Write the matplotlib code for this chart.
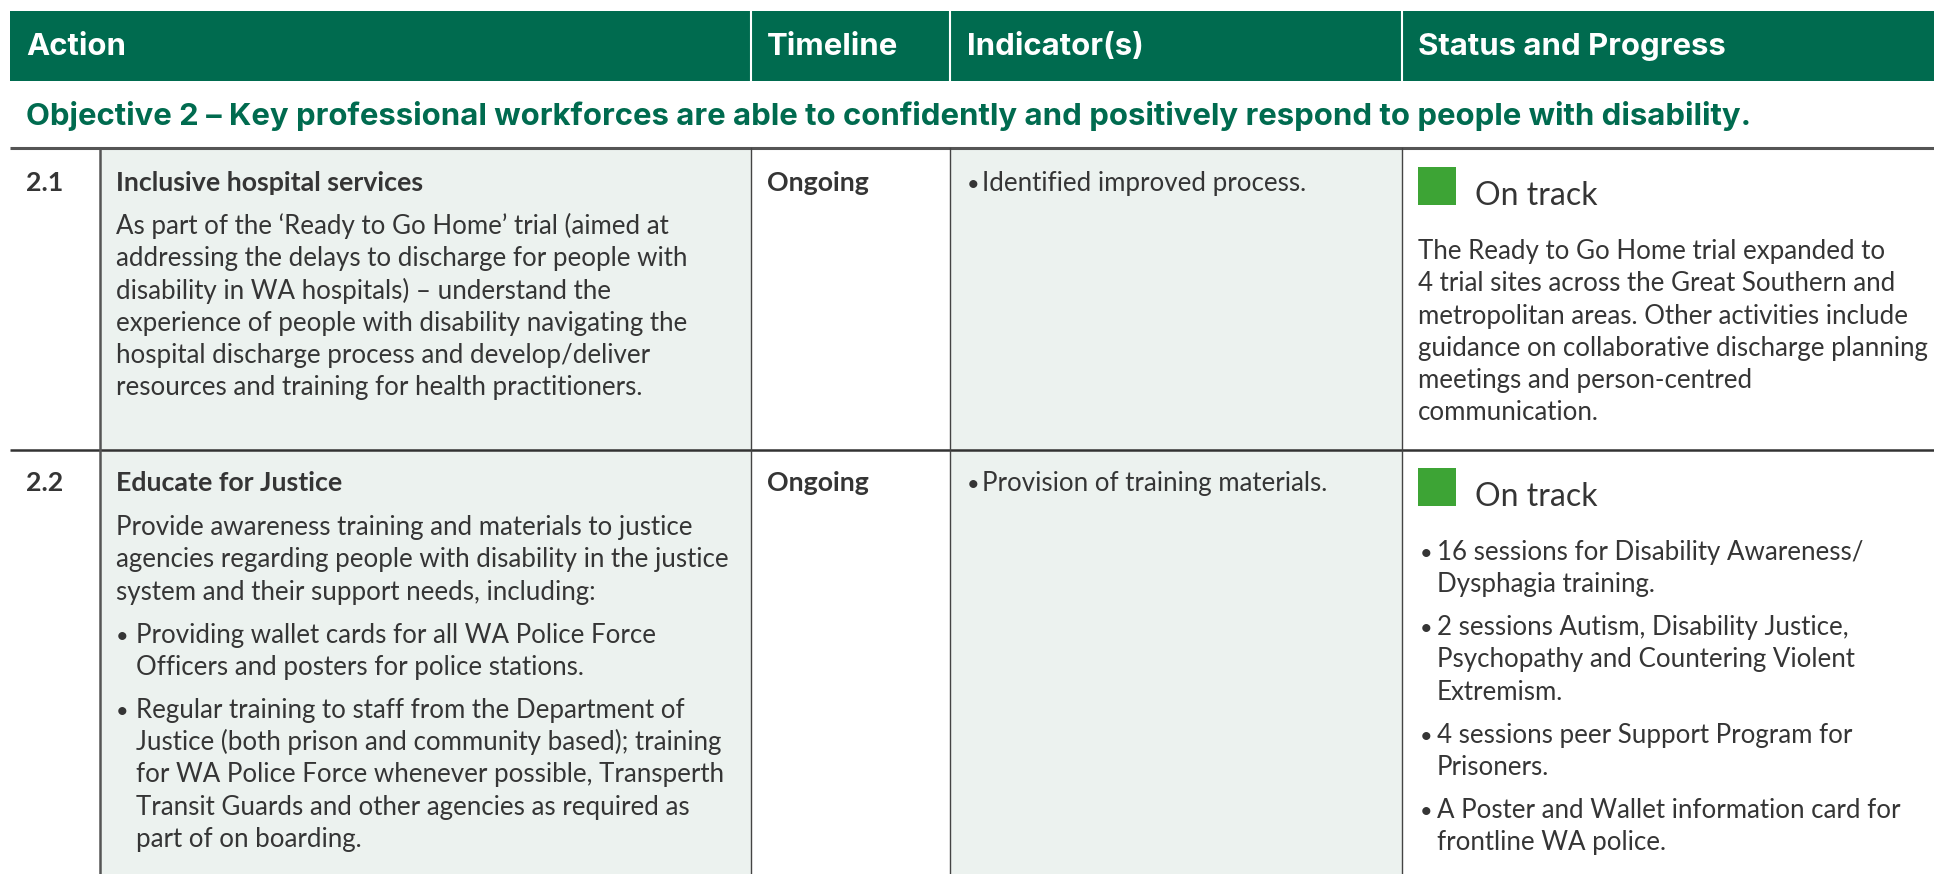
import matplotlib
matplotlib.use("Agg")
import matplotlib.pyplot as plt
from matplotlib.patches import Rectangle

# ---------------- data ----------------
headers = ["Action", "Timeline", "Indicator(s)", "Status and Progress"]
objective = ("Objective 2 \u2013 Key professional workforces are able to confidently "
             "and positively respond to people with disability.")
row_ids = ["2.1", "2.2"]
row_titles = ["Inclusive hospital services", "Educate for Justice"]
row1_body = [
    "As part of the \u2018Ready to Go Home\u2019 trial (aimed at",
    "addressing the delays to discharge for people with",
    "disability in WA hospitals) \u2013 understand the",
    "experience of people with disability navigating the",
    "hospital discharge process and develop/deliver",
    "resources and training for health practitioners.",
]
row2_body = [
    "Provide awareness training and materials to justice",
    "agencies regarding people with disability in the justice",
    "system and their support needs, including:",
]
row2_bullets = [
    ["Providing wallet cards for all WA Police Force",
     "Officers and posters for police stations."],
    ["Regular training to staff from the Department of",
     "Justice (both prison and community based); training",
     "for WA Police Force whenever possible, Transperth",
     "Transit Guards and other agencies as required as",
     "part of on boarding."],
]
timelines = ["Ongoing", "Ongoing"]
indicators = ["Identified improved process.", "Provision of training materials."]
statuses = ["On track", "On track"]
status1_body = [
    "The Ready to Go Home trial expanded to",
    "4 trial sites across the Great Southern and",
    "metropolitan areas. Other activities include",
    "guidance on collaborative discharge planning",
    "meetings and person-centred",
    "communication.",
]
status2_bullets = [
    ["16 sessions for Disability Awareness/", "Dysphagia training."],
    ["2 sessions Autism, Disability Justice,", "Psychopathy and Countering Violent", "Extremism."],
    ["4 sessions peer Support Program for", "Prisoners."],
    ["A Poster and Wallet information card for", "frontline WA police."],
]

# ---------------- style ----------------
W, H = 1934, 874
GREEN = "#006b4f"
FILL = "#ecf2ef"
TEXT = "#353535"
SQ = "#3da435"
BODY_FONT = ["Lato", "DejaVu Sans"]
HEAD_FONT = ["Inter", "DejaVu Sans"]
BODY_FS = 18.6
BOLD_FS = 19.3
HEAD_FS = 22.4
STATUS_FS = 23.0
LS = 32.3

fig = plt.figure(figsize=(W / 100, H / 100), dpi=100)
ax = fig.add_axes([0, 0, 1, 1])
ax.set_xlim(0, W)
ax.set_ylim(H, 0)
ax.axis("off")

# column geometry
x_left, x_c1, x_c2, x_c3, x_c4 = 10, 100, 751, 950, 1402
top_tab, row_sep = 148, 450

# header
ax.add_patch(Rectangle((x_left, 11), W - x_left, 70, color=GREEN, lw=0))
for xd in (x_c2, x_c3, x_c4):
    ax.plot([xd, xd], [11, 81], color="white", lw=1.5)
head_x = [26, 767, 967, 1418]
for hx, t in zip(head_x, headers):
    ax.text(hx, 55, t, color="white", fontsize=HEAD_FS, fontweight="bold",
            family=HEAD_FONT, va="baseline", ha="left")

# objective
ax.text(26, 125, objective, color=GREEN, fontsize=HEAD_FS, fontweight="bold",
        family=HEAD_FONT, va="baseline", ha="left")

# fills
ax.add_patch(Rectangle((x_c1, top_tab), x_c2 - x_c1, H - top_tab, color=FILL, lw=0))
ax.add_patch(Rectangle((x_c3, top_tab), x_c4 - x_c3, H - top_tab, color=FILL, lw=0))

# grid lines
ax.plot([x_left, W], [top_tab, top_tab], color="#555555", lw=2.2, solid_capstyle="butt")
ax.plot([x_left, W], [row_sep, row_sep], color="#333333", lw=1.8, solid_capstyle="butt")
ax.plot([x_c1, x_c1], [top_tab, H], color="#555555", lw=1.8)
for xd in (x_c2, x_c3, x_c4):
    ax.plot([xd, xd], [top_tab, H], color="#444444", lw=1.0)


def txt(x, y, s, fs=BODY_FS, weight="normal", color=TEXT):
    ax.text(x, y, s, fontsize=fs, fontweight=weight, color=color,
            family=BODY_FONT, va="baseline", ha="left")


def bullet(x, y):
    txt(x, y, "\u2022", fs=BODY_FS * 0.85)


# ---- row 1 ----
txt(26, 191, row_ids[0], fs=BOLD_FS, weight="bold")
txt(116, 191, row_titles[0], fs=BOLD_FS, weight="bold")
for i, line in enumerate(row1_body):
    txt(116, 234 + i * LS, line)
txt(767, 191, timelines[0], fs=BOLD_FS, weight="bold")
bullet(967, 191)
txt(982, 191, indicators[0])
ax.add_patch(Rectangle((1418, 167), 38, 38, color=SQ, lw=0))
txt(1475, 205, statuses[0], fs=STATUS_FS)
for i, line in enumerate(status1_body):
    txt(1418, 259 + i * LS, line)

# ---- row 2 ----
txt(26, 491, row_ids[1], fs=BOLD_FS, weight="bold")
txt(116, 491, row_titles[1], fs=BOLD_FS, weight="bold")
for i, line in enumerate(row2_body):
    txt(116, 535 + i * LS, line)
y = 535 + 2 * LS + 43
for blk in row2_bullets:
    bullet(116, y)
    for j, line in enumerate(blk):
        txt(136, y + j * LS, line)
    y += len(blk) * LS + 10.5
txt(767, 491, timelines[1], fs=BOLD_FS, weight="bold")
bullet(967, 491)
txt(982, 491, indicators[1])
ax.add_patch(Rectangle((1418, 468), 38, 38, color=SQ, lw=0))
txt(1475, 506, statuses[1], fs=STATUS_FS)
y = 560
for blk in status2_bullets:
    bullet(1420, y)
    for j, line in enumerate(blk):
        txt(1437, y + j * LS, line)
    y += len(blk) * LS + 10.5

fig.savefig("out.png", dpi=100, facecolor="white")
